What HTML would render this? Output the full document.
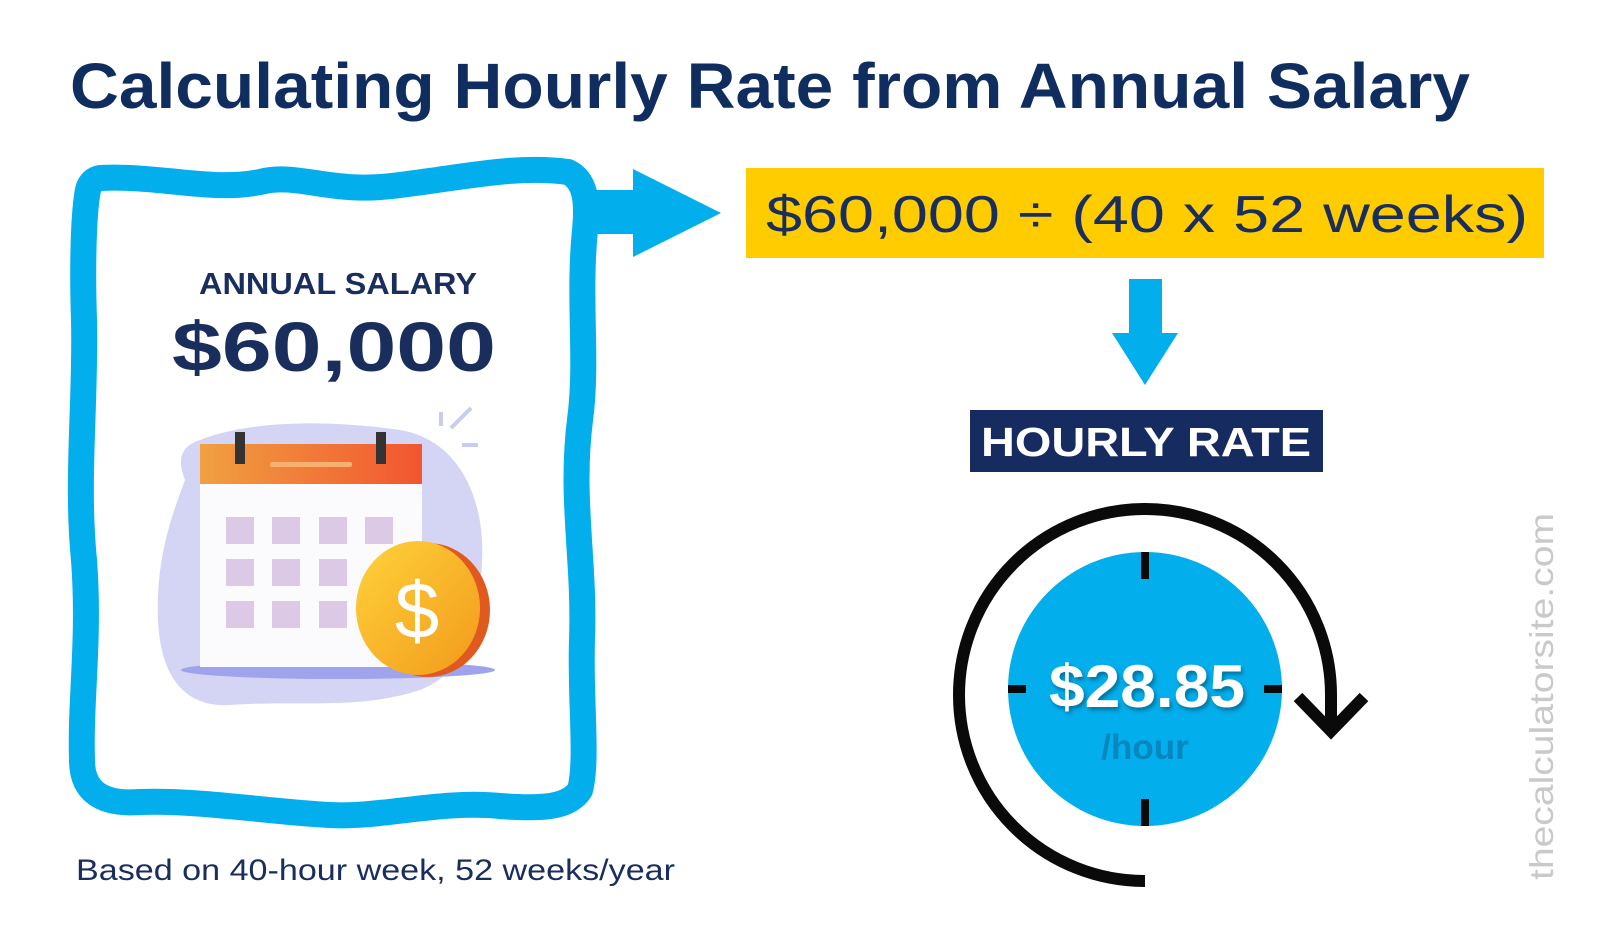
<!DOCTYPE html>
<html><head><meta charset="utf-8"><style>
html,body{margin:0;padding:0;background:#fff;}
svg{display:block;}
</style></head><body>
<svg width="1600" height="939" viewBox="0 0 1600 939" xmlns="http://www.w3.org/2000/svg" font-family="Liberation Sans, sans-serif">
<defs>
<linearGradient id="hd" x1="0" x2="1"><stop offset="0" stop-color="#f0a040"/><stop offset="1" stop-color="#f25530"/></linearGradient>
<linearGradient id="cn" x1="0" y1="0" x2="1" y2="1"><stop offset="0" stop-color="#ffd23a"/><stop offset="1" stop-color="#f29a1c"/></linearGradient>
<filter id="sh"><feDropShadow dx="2" dy="3" stdDeviation="2" flood-color="#000" flood-opacity="0.35"/></filter>
</defs>
<text x="70" y="108" font-size="64" font-weight="bold" fill="#0f2d5e" textLength="1400" lengthAdjust="spacingAndGlyphs">Calculating Hourly Rate from Annual Salary</text>

<path d="M100,178 C160,175 210,192 260,182 C300,172 330,195 400,185 C470,176 520,165 568,172 C585,180 588,200 585,230 C578,300 588,360 580,420 C570,500 585,560 582,640 C580,700 588,760 580,790 C570,805 550,810 500,806 C440,800 380,818 330,815 C270,812 200,800 140,802 C100,805 82,790 82,760 C80,700 90,640 84,560 C76,480 86,400 84,320 C82,260 84,210 88,190 C90,182 95,179 100,178 Z" fill="none" stroke="#03aeed" stroke-width="26" stroke-linejoin="round"/>
<rect x="575" y="190" width="62" height="44" fill="#03aeed"/>
<polygon points="633,169 721,213 633,257" fill="#03aeed"/>

<text x="338" y="294" font-size="31" font-weight="bold" fill="#1a2e5e" text-anchor="middle" textLength="278" lengthAdjust="spacingAndGlyphs">ANNUAL SALARY</text>
<text x="334" y="371" font-size="70" font-weight="bold" fill="#1a2e5e" text-anchor="middle" textLength="324" lengthAdjust="spacingAndGlyphs">$60,000</text>

<path d="M200,440 C250,420 330,420 400,430 C460,440 485,500 482,560 C480,620 470,670 420,690 C360,710 300,700 230,705 C180,708 160,670 158,620 C156,560 170,520 185,480 C175,455 185,445 200,440 Z" fill="#d4d5f5"/>
<ellipse cx="338" cy="670" rx="157" ry="9" fill="#9ea3ec"/>
<circle cx="312" cy="696" r="7" fill="#d4d5f5"/>
<rect x="200" y="444" width="222" height="223" fill="#fbfbfd"/>
<rect x="200" y="444" width="222" height="40" fill="url(#hd)"/>
<rect x="270" y="462" width="82" height="5" rx="2" fill="#f8b070"/>
<rect x="235" y="432" width="10" height="32" fill="#333"/>
<rect x="376" y="432" width="10" height="32" fill="#333"/>
<g fill="#dcc9e6">
<rect x="226" y="517" width="28" height="27"/><rect x="272" y="517" width="28" height="27"/><rect x="319" y="517" width="28" height="27"/><rect x="365" y="517" width="28" height="27"/>
<rect x="226" y="559" width="28" height="27"/><rect x="272" y="559" width="28" height="27"/><rect x="319" y="559" width="28" height="27"/>
<rect x="226" y="601" width="28" height="27"/><rect x="272" y="601" width="28" height="27"/><rect x="319" y="601" width="28" height="27"/>
</g>
<path d="M441,412 l0,14 M451,428 l20,-20 M462,445 l16,0" stroke="#c9cbf2" stroke-width="4"/>
<ellipse cx="428" cy="610" rx="62" ry="67" fill="#e05a20"/>
<ellipse cx="418" cy="608" rx="62" ry="67" fill="url(#cn)"/>
<text x="417" y="638" font-size="80" fill="#fff" text-anchor="middle">$</text>

<text x="76" y="880" font-size="30" fill="#1a2e5e" textLength="599" lengthAdjust="spacingAndGlyphs">Based on 40-hour week, 52 weeks/year</text>

<rect x="746" y="168" width="798" height="90" fill="#ffcc00"/>
<text x="766" y="232" font-size="52" fill="#1a2e5e" textLength="762" lengthAdjust="spacingAndGlyphs">$60,000 ÷ (40 x 52 weeks)</text>

<rect x="1129" y="279" width="33" height="56" fill="#03aeed"/>
<polygon points="1112,333 1178,333 1145,385" fill="#03aeed"/>

<rect x="970" y="410" width="353" height="62" fill="#162b60"/>
<text x="1146" y="456" font-size="41" font-weight="bold" fill="#fff" text-anchor="middle" textLength="330" lengthAdjust="spacingAndGlyphs">HOURLY RATE</text>

<circle cx="1145" cy="689" r="137" fill="#03aeed"/>
<g stroke="#0a0a0a" stroke-width="8">
<line x1="1145" y1="552" x2="1145" y2="579"/><line x1="1145" y1="799" x2="1145" y2="826"/>
<line x1="1008" y1="689" x2="1026" y2="689"/><line x1="1264" y1="689" x2="1282" y2="689"/>
</g>
<path d="M1145,881 A186,186 0 1,1 1331,695 L1331,729" fill="none" stroke="#0a0a0a" stroke-width="12"/>
<path d="M1298,697 L1331,731 L1364,697" fill="none" stroke="#0a0a0a" stroke-width="12"/>
<text x="1147" y="707" font-size="60" font-weight="bold" fill="#fff" text-anchor="middle" filter="url(#sh)" textLength="196" lengthAdjust="spacingAndGlyphs">$28.85</text>
<text x="1145" y="759" font-size="35" font-weight="bold" fill="#0786bf" text-anchor="middle">/hour</text>

<text transform="translate(1553,880) rotate(-90)" font-size="33" fill="#c9c9c9" textLength="367" lengthAdjust="spacingAndGlyphs">thecalculatorsite.com</text>
</svg>
</body></html>
